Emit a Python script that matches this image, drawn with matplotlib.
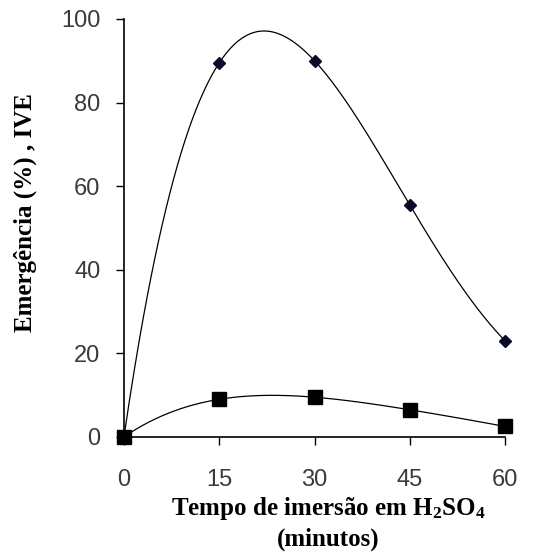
import numpy as np
import matplotlib
matplotlib.use('Agg')
import matplotlib.pyplot as plt

# dados
tempo = [0, 15, 30, 45, 60]
emergencia = [0, 89.5, 90, 55.5, 23]
ive = [0, 9, 9.5, 6.5, 2.5]
x_ticks = [0, 15, 30, 45, 60]
y_ticks = [0, 20, 40, 60, 80, 100]

plt.rcParams['mathtext.fontset'] = 'custom'
plt.rcParams['mathtext.rm'] = 'Liberation Serif:bold'
plt.rcParams['mathtext.it'] = 'Liberation Serif:bold'

fig = plt.figure(figsize=(5.39, 5.58), dpi=100)
ax = fig.add_axes([0.230, 0.217, 0.707, 0.749])

# linhas de tendencia polinomiais
xs = np.linspace(0, 60, 300)
for ys in (emergencia, ive):
    coef = np.polyfit(tempo, ys, 4)
    ax.plot(xs, np.polyval(coef, xs), color='black', lw=0.9, clip_on=False)

ax.plot(tempo, emergencia, linestyle='none', marker='D', ms=6, color='#0a0a2a', clip_on=False, zorder=5)
ax.plot(tempo, ive, linestyle='none', marker='s', ms=10, color='black', clip_on=False, zorder=5)

ax.set_xlim(0, 60)
ax.set_ylim(0, 100)
ax.set_xticks(x_ticks)
ax.set_yticks(y_ticks)
for s in ['top', 'right']:
    ax.spines[s].set_visible(False)
for s in ['left', 'bottom']:
    ax.spines[s].set_linewidth(1.2)
ax.tick_params(direction='out', length=6, width=1, labelsize=17, labelcolor='#3a3a3a')
ax.tick_params(axis='x', pad=17)
ax.tick_params(axis='y', pad=11)
for lab in ax.get_xticklabels() + ax.get_yticklabels():
    lab.set_family('Liberation Sans')

serif = {'family': 'Liberation Serif', 'weight': 'bold', 'size': 18}
ax.set_xlabel('Tempo de imersão em H$_2$SO$_4$\n(minutos)', fontdict=serif, linespacing=1.3)
ax.xaxis.set_label_coords(0.537, -0.14)
ax.set_ylabel('Emergência (%) , IVE', fontdict=serif)
ax.yaxis.set_label_coords(-0.228, 0.536)

fig.savefig('out.png', dpi=100)
